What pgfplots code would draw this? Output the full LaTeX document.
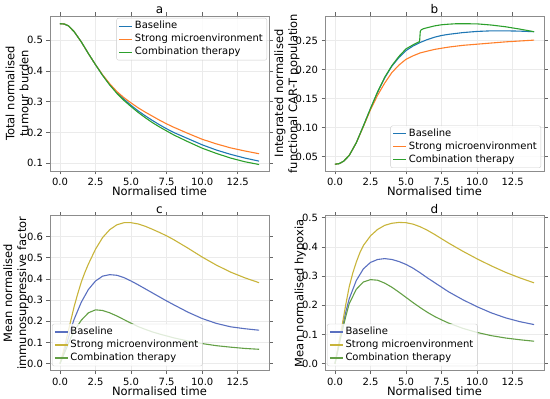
\documentclass[border=0pt]{standalone}
\usepackage{fontspec}
\setmainfont{DejaVu Sans}
\usepackage{pgfplots}
\pgfplotsset{compat=1.18}
\definecolor{tblue}{HTML}{1F77B4}
\definecolor{torange}{HTML}{FF7F2A}
\definecolor{tgreen}{HTML}{2CA02C}
\definecolor{mblue}{HTML}{5A70C0}
\definecolor{myellow}{HTML}{C8B43A}
\definecolor{mgreen}{HTML}{64A046}
\pgfplotsset{
 every axis title shift=0pt,
 panel/.style={
  scale only axis, width=219bp, height=155bp,
  xmin=-0.7, xmax=14.7,
  xtick={0,2.5,5,7.5,10,12.5},
  xticklabel style={/pgf/number format/.cd, fixed, fixed zerofill, precision=1},
  /pgf/number format/assume math mode=true,
  tick label style={font=\fontsize{10bp}{12bp}\selectfont},
  label style={font=\fontsize{11.5bp}{14bp}\selectfont},
  title style={font=\fontsize{12bp}{14bp}\selectfont, at={(0.5,1)}, anchor=base, yshift=2.5bp, inner sep=0pt},
  grid=major, grid style={line width=0.5bp, draw=black!8},
  axis line style={draw=black!45, line width=0.8bp},
  tick align=outside, major tick length=3.5bp, tick style={draw=black!60, line width=0.6bp},
  xlabel={Normalised time},
  xlabel style={at={(axis description cs:0.5,0)}, anchor=base, yshift=-25bp, inner sep=0pt},
  ylabel style={align=center, at={(axis description cs:-0.097,0.5)}, anchor=south, inner sep=0pt},
  every axis plot/.append style={line width=1.1bp},
  legend style={font=\fontsize{10bp}{12bp}\selectfont, draw=black!20, rounded corners=2bp, fill=white, fill opacity=0.8, text opacity=1, inner xsep=2bp, inner ysep=1.5bp, row sep=0bp, cells={anchor=west},
    nodes={text height=7.5bp, text depth=2.5bp, inner ysep=1.5bp, inner xsep=2bp}},
  legend image code/.code={\draw[#1, line width=1.3bp] (0bp,0bp) -- (13bp,0bp);},
 }
}
\begin{document}
\begin{tikzpicture}
% ---------- a ----------
\begin{axis}[panel, at={(50bp,228bp)}, anchor=south west, title={a},
  ymin=0.075, ymax=0.578, ytick={0.1,0.2,0.3,0.4,0.5},
  yticklabel style={/pgf/number format/.cd, fixed, precision=1},
  ylabel={Total normalised\\tumour burden},
  legend style={at={(1,1)}, anchor=north east, xshift=-2bp, yshift=-2bp}]
\addplot[tblue] coordinates {(0,0.553)(0.3,0.552)(0.6,0.546)(1.0,0.527)(1.5,0.494)(2.0,0.456)(2.5,0.420)(3.0,0.386)(3.5,0.356)(4.0,0.330)(4.5,0.308)(5.0,0.288)(5.5,0.270)(6.0,0.254)(6.5,0.239)(7.0,0.225)(7.5,0.212)(8.0,0.200)(9.0,0.180)(10.0,0.160)(11.0,0.143)(12.0,0.129)(13.0,0.117)(14.0,0.107)};
\addplot[torange] coordinates {(0,0.553)(0.3,0.552)(0.6,0.546)(1.0,0.527)(1.5,0.494)(2.0,0.456)(2.5,0.420)(3.0,0.387)(3.5,0.358)(4.0,0.333)(4.5,0.313)(5.0,0.296)(5.5,0.280)(6.0,0.266)(6.5,0.253)(7.0,0.240)(7.5,0.228)(8.0,0.217)(9.0,0.197)(10.0,0.178)(11.0,0.163)(12.0,0.150)(13.0,0.140)(14.0,0.131)};
\addplot[tgreen] coordinates {(0,0.553)(0.3,0.552)(0.6,0.546)(1.0,0.527)(1.5,0.494)(2.0,0.456)(2.5,0.420)(3.0,0.385)(3.5,0.354)(4.0,0.327)(4.5,0.304)(5.0,0.284)(5.5,0.265)(6.0,0.248)(6.5,0.232)(7.0,0.218)(7.5,0.205)(8.0,0.192)(9.0,0.170)(10.0,0.149)(11.0,0.132)(12.0,0.117)(13.0,0.105)(14.0,0.096)};
\legend{Baseline,Strong microenvironment,Combination therapy}
\end{axis}
% ---------- b ----------
\begin{axis}[panel, at={(325bp,228bp)}, anchor=south west, title={b},
  ymin=0.0253, ymax=0.2926, ytick={0.05,0.10,0.15,0.20,0.25},
  yticklabel style={/pgf/number format/.cd, fixed, fixed zerofill, precision=2},
  ylabel={Integrated normalised\\functional CAR-T population},
  ylabel style={at={(axis description cs:-0.116,0.5)}},
  legend style={at={(1,0)}, anchor=south east, xshift=-3bp, yshift=3bp}]
\addplot[tblue] coordinates {(0,0.037)(0.3,0.038)(0.6,0.042)(1.0,0.052)(1.5,0.074)(2.0,0.103)(2.5,0.133)(3.0,0.161)(3.5,0.186)(4.0,0.206)(4.5,0.221)(5.0,0.233)(5.5,0.241)(6.0,0.247)(6.5,0.252)(7.0,0.256)(7.5,0.259)(8.0,0.261)(9.0,0.264)(10.0,0.266)(11.0,0.267)(12.0,0.267)(13.0,0.2665)(14.0,0.2655)};
\addplot[torange] coordinates {(0,0.037)(0.3,0.038)(0.6,0.042)(1.0,0.052)(1.5,0.074)(2.0,0.102)(2.5,0.131)(3.0,0.156)(3.5,0.177)(4.0,0.195)(4.5,0.208)(5.0,0.218)(5.5,0.224)(6.0,0.229)(6.5,0.232)(7.0,0.235)(7.5,0.237)(8.0,0.239)(9.0,0.242)(10.0,0.244)(11.0,0.246)(12.0,0.248)(13.0,0.2495)(14.0,0.251)};
\addplot[tgreen] coordinates {(0,0.037)(0.3,0.038)(0.6,0.042)(1.0,0.052)(1.5,0.074)(2.0,0.103)(2.5,0.133)(3.0,0.162)(3.5,0.187)(4.0,0.207)(4.5,0.223)(5.0,0.236)(5.5,0.243)(5.95,0.2485)(6.0,0.266)(6.05,0.2684)(6.2,0.2705)(6.5,0.2725)(7.0,0.2755)(7.5,0.2775)(8.0,0.2785)(8.5,0.2792)(9.0,0.2793)(10.0,0.279)(11.0,0.277)(12.0,0.274)(13.0,0.270)(14.0,0.2655)};
\legend{Baseline,Strong microenvironment,Combination therapy}
\end{axis}
% ---------- c ----------
\begin{axis}[panel, at={(50bp,28.3bp)}, anchor=south west, title={c},
  ymin=-0.033, ymax=0.698, ytick={0,0.1,0.2,0.3,0.4,0.5,0.6},
  yticklabel style={/pgf/number format/.cd, fixed, fixed zerofill, precision=1},
  ylabel={Mean normalised\\immunosuppressive factor},
  legend style={at={(0,0)}, anchor=south west, xshift=2bp, yshift=4.5bp}]
\addplot[mblue] coordinates {(0,0.0)(0.25,0.05)(0.5,0.10)(0.75,0.16)(1.0,0.21)(1.5,0.29)(2.0,0.35)(2.5,0.39)(3.0,0.413)(3.5,0.420)(4.0,0.417)(4.5,0.406)(5.0,0.390)(5.5,0.372)(6.0,0.353)(6.5,0.334)(7.0,0.315)(7.5,0.296)(8.0,0.278)(9.0,0.243)(10.0,0.213)(11.0,0.190)(12.0,0.174)(13.0,0.165)(14.0,0.158)};
\addplot[myellow] coordinates {(0,0.0)(0.25,0.06)(0.5,0.13)(0.75,0.20)(1.0,0.27)(1.25,0.33)(1.5,0.385)(1.75,0.43)(2.0,0.47)(2.5,0.54)(3.0,0.595)(3.5,0.632)(4.0,0.655)(4.5,0.665)(5.0,0.665)(5.5,0.659)(6.0,0.648)(6.5,0.634)(7.0,0.619)(7.5,0.603)(8.0,0.585)(9.0,0.545)(10.0,0.503)(11.0,0.465)(12.0,0.432)(13.0,0.405)(14.0,0.382)};
\addplot[mgreen] coordinates {(0,0.0)(0.25,0.04)(0.5,0.08)(0.75,0.12)(1.0,0.155)(1.5,0.205)(2.0,0.240)(2.5,0.254)(3.0,0.251)(3.5,0.240)(4.0,0.225)(4.5,0.208)(5.0,0.191)(5.5,0.175)(6.0,0.162)(6.5,0.150)(7.0,0.140)(7.5,0.131)(8.0,0.122)(9.0,0.107)(10.0,0.095)(11.0,0.085)(12.0,0.078)(13.0,0.072)(14.0,0.068)};
\legend{Baseline,Strong microenvironment,Combination therapy}
\end{axis}
% ---------- d ----------
\begin{axis}[panel, at={(325bp,28.3bp)}, anchor=south west, title={d},
  ymin=-0.024, ymax=0.507, ytick={0,0.1,0.2,0.3,0.4,0.5},
  yticklabel style={/pgf/number format/.cd, fixed, fixed zerofill, precision=1},
  ylabel={Mean normalised hypoxia},
  ylabel style={at={(axis description cs:-0.087,0.5)}},
  legend style={at={(0,0)}, anchor=south west, xshift=2bp, yshift=4.5bp}]
\addplot[mblue] coordinates {(0,0.0)(0.25,0.06)(0.5,0.12)(0.75,0.175)(1.0,0.222)(1.5,0.285)(2.0,0.325)(2.5,0.347)(3.0,0.357)(3.5,0.360)(4.0,0.357)(4.5,0.350)(5.0,0.340)(5.5,0.327)(6.0,0.311)(6.5,0.294)(7.0,0.278)(7.5,0.262)(8.0,0.246)(9.0,0.219)(10.0,0.195)(11.0,0.174)(12.0,0.157)(13.0,0.144)(14.0,0.134)};
\addplot[myellow] coordinates {(0,0.0)(0.25,0.065)(0.5,0.13)(0.75,0.20)(1.0,0.263)(1.25,0.31)(1.5,0.348)(1.75,0.38)(2.0,0.405)(2.5,0.438)(3.0,0.460)(3.5,0.474)(4.0,0.481)(4.5,0.484)(5.0,0.483)(5.5,0.478)(6.0,0.469)(6.5,0.457)(7.0,0.443)(7.5,0.428)(8.0,0.413)(9.0,0.385)(10.0,0.359)(11.0,0.335)(12.0,0.313)(13.0,0.294)(14.0,0.277)};
\addplot[mgreen] coordinates {(0,0.0)(0.25,0.055)(0.5,0.11)(0.75,0.16)(1.0,0.205)(1.5,0.255)(2.0,0.280)(2.5,0.288)(3.0,0.286)(3.5,0.276)(4.0,0.262)(4.5,0.245)(5.0,0.227)(5.5,0.209)(6.0,0.192)(6.5,0.176)(7.0,0.162)(7.5,0.150)(8.0,0.139)(9.0,0.121)(10.0,0.107)(11.0,0.096)(12.0,0.088)(13.0,0.082)(14.0,0.077)};
\legend{Baseline,Strong microenvironment,Combination therapy}
\end{axis}
\pgfresetboundingbox
\path (0,0) rectangle (550bp,399bp);
\end{tikzpicture}
\end{document}
